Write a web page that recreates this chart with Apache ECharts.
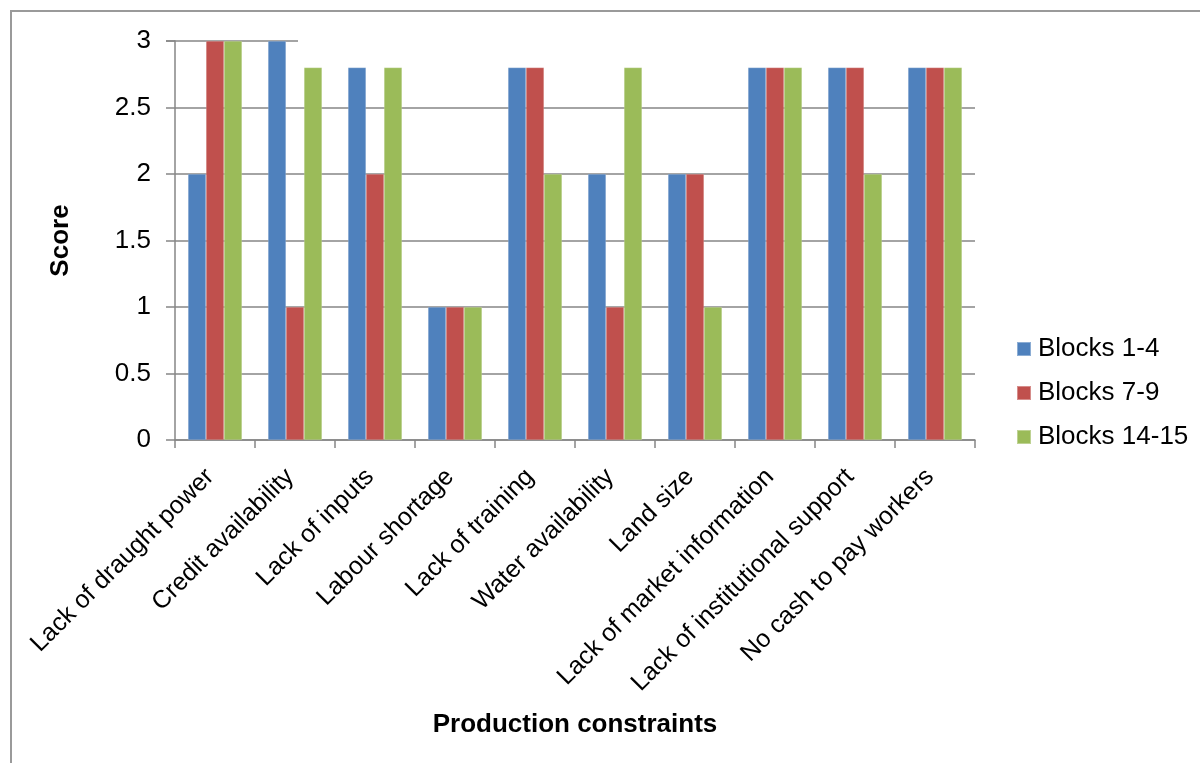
<!DOCTYPE html>
<html>
<head>
<meta charset="utf-8">
<script src="https://cdn.jsdelivr.net/npm/echarts@6/dist/echarts.min.js"></script>
<style>
  html, body { margin: 0; padding: 0; background: #fff; }
  #chart { width: 1200px; height: 763px; }
</style>
</head>
<body>
<div id="chart"></div>
<script>
// Production constraint scores per block group
const categories = [
  'Lack of draught power',
  'Credit availability',
  'Lack of inputs',
  'Labour shortage',
  'Lack of training',
  'Water availability',
  'Land size',
  'Lack of market information',
  'Lack of institutional support',
  'No cash to pay workers'
];
const seriesNames = ['Blocks 1-4', 'Blocks 7-9', 'Blocks 14-15'];
const blocks1to4 = [2, 3, 2.8, 1, 2.8, 2, 2, 2.8, 2.8, 2.8];
const blocks7to9 = [3, 1, 2, 1, 2.8, 1, 2, 2.8, 2.8, 2.8];
const blocks14to15 = [3, 2.8, 2.8, 1, 2, 2.8, 1, 2.8, 2, 2.8];
const colors = ['#4F81BD', '#C0504D', '#9BBB59'];

const FONT = '"Liberation Sans", Arial, sans-serif';
const GRAY = '#868686';

const chart = echarts.init(document.getElementById('chart'));
const seriesData = [blocks1to4, blocks7to9, blocks14to15];

const frame = {
  type: 'rect',
  shape: { x: 11, y: 11, width: 1300, height: 900 },
  style: { fill: 'none', stroke: '#9a9a9a', lineWidth: 2 },
  silent: true
};

chart.setOption({
  animation: false,
  backgroundColor: '#fff',
  textStyle: { fontFamily: FONT },
  graphic: [frame],
  grid: { left: 175, right: 225, top: 41, bottom: 323, containLabel: false },
  legend: {
    orient: 'vertical',
    left: 1016,
    top: 336,
    padding: 0,
    itemWidth: 14,
    itemHeight: 14,
    itemGap: 18,
    icon: 'rect',
    textStyle: { fontSize: 26, color: '#000', fontFamily: FONT, padding: [0, 0, 0, 2] },
    data: seriesNames
  },
  xAxis: {
    type: 'category',
    data: categories,
    name: 'Production constraints',
    nameLocation: 'middle',
    nameGap: 272,
    nameTextStyle: { fontSize: 26, fontWeight: 'bold', color: '#000', fontFamily: FONT },
    axisLine: { lineStyle: { color: GRAY, width: 1.5 } },
    axisTick: { show: true, length: 8, lineStyle: { color: GRAY, width: 1.5 } },
    axisLabel: {
      rotate: 45, fontSize: 25, color: '#000', margin: 28, interval: 0,
      fontFamily: FONT, padding: [0, 7, 0, 0]
    }
  },
  yAxis: {
    type: 'value',
    min: 0,
    max: 3,
    interval: 0.5,
    name: 'Score',
    nameLocation: 'middle',
    nameGap: 101,
    nameTextStyle: { fontSize: 26, fontWeight: 'bold', color: '#000', fontFamily: FONT },
    axisLine: { show: true, lineStyle: { color: GRAY, width: 1.5 } },
    axisTick: { show: true, length: 9, lineStyle: { color: GRAY, width: 1.5 } },
    axisLabel: { fontSize: 26, color: '#000', margin: 24, fontFamily: FONT },
    splitLine: { show: true, showMaxLine: false, lineStyle: { color: GRAY, width: 1.5 } }
  },
  series: seriesNames.map((name, i) => ({
    name: name,
    type: 'bar',
    data: seriesData[i],
    barWidth: 18,
    barGap: '0%',
    itemStyle: { color: colors[i], borderColor: 'rgba(255,255,255,0.35)', borderWidth: 0.5 }
  }))
});

// The top gridline only runs across the first group and part of the second
const topY = chart.convertToPixel({ yAxisIndex: 0 }, 3);
const xStart = chart.convertToPixel({ xAxisIndex: 0 }, 0) - 49;
const xEnd = chart.convertToPixel({ xAxisIndex: 0 }, 1) + 3;
chart.setOption({
  graphic: [frame, {
    type: 'line',
    z: -1,
    shape: { x1: xStart, y1: topY, x2: xEnd, y2: topY },
    style: { stroke: GRAY, lineWidth: 1.5 },
    silent: true
  }]
});
</script>
</body>
</html>
